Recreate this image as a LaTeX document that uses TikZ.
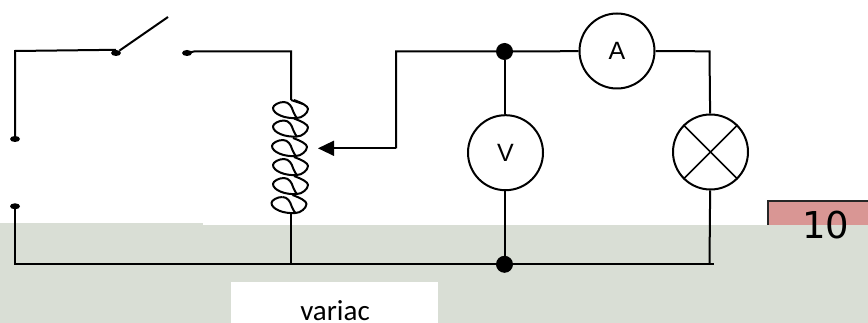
\documentclass[tikz,border=0pt]{standalone}
\usepackage{fontspec}
\usetikzlibrary{shapes.geometric}
\setmainfont{Carlito}
\newfontfamily\numfont{DejaVu Sans}
\newfontfamily\metfont{Liberation Sans}
\definecolor{bgGreen}{HTML}{D9DED5}
\definecolor{bgRed}{HTML}{D99694}
\begin{document}
\begin{tikzpicture}[x=1pt,y=-1pt,
  wire/.style={draw=black,line width=2pt,line join=miter},
  meter/.style={circle,draw=black,line width=2pt,fill=white,minimum size=75pt,inner sep=0pt,font=\metfont\fontsize{25}{28}\selectfont},
  bigdot/.style={circle,fill=black,inner sep=0pt,minimum size=17pt},
  smalldot/.style={ellipse,fill=black,inner sep=0pt,minimum width=10pt,minimum height=6pt},
  coilline/.style={draw=black,line width=2pt,line join=round}]
\useasboundingbox (0,0) rectangle (868,323);
\fill[white] (0,0) rectangle (868,323);
\fill[bgGreen] (0,224.7) rectangle (868,323);
\fill[bgGreen] (0,223.5) rectangle (203,225);
\fill[bgRed] (767,201) rectangle (868,224.7);
\draw[line width=2pt,draw=black!85] (767.5,224.7) -- (767.5,201) -- (868,201);
\node[font=\numfont\fontsize{37}{40}\selectfont,inner sep=0pt] (ten) at (826,225) {10};
\node[fill=white,minimum width=207pt,minimum height=41pt,inner sep=0pt,anchor=north west] (variacbox) at (231,282) {};
\node[font=\fontsize{29}{32}\selectfont,inner sep=0pt,anchor=base] (variac) at (335,320.5) {variac};
% terminals
\node[smalldot] (t1) at (15,139) {};
\node[smalldot] (t2) at (15,206.3) {};
\node[smalldot] (s1) at (116,53) {};
\node[smalldot] (s2) at (187,53) {};
\coordinate (swtip) at (168,17);
\coordinate (c1) at (15,51);
\coordinate (c2) at (15,264.3);
\coordinate (c4) at (291,100);
\coordinate (c5) at (291,213);
\coordinate (c6) at (291,264.3);
\coordinate (c7) at (396,51.3);
\coordinate (c8) at (396,148.3);
\coordinate (tip) at (318,148.3);
\coordinate (c9) at (709.5,51.3);
\coordinate (c10) at (714,264.3);
\coordinate (c11) at (709.5,264.3);
\node[bigdot] (n1) at (504.5,51.5) {};
\node[bigdot] (n2) at (504.5,264.3) {};
\node[meter] (A) at (617,51) {A};
\node[meter] (V) at (505.5,152.7) {V};
\node[meter] (L) at (710.5,152) {};
% wiring
\draw[wire] (t1) -- (c1) -- (s1.north);
\draw[wire] (s1) -- (swtip);
\draw[wire] (s2.center) -- ++(8,-1.7) -| (c4);
\draw[wire] (t2) -- (c2) -- (c10);
\draw[wire] (c5) -- (c6);
\draw[wire] (c8) -- (c7) -- (n1);
\draw[wire] (n1) -- (A);
\draw[wire] (A) -- (c9) -- (L);
\draw[wire] (L) -- (c11);
\draw[wire] (n1) -- (n1 |- V.north);
\draw[wire] (n2 |- V.south) -- (n2);
\draw[wire] (c8) -- (332,148.3);
\fill[black] (tip) -- (334,140.6) -- (334,156) -- cycle;
% lamp cross
\draw[wire,line width=1.7pt] (L.north west) -- (L.south east);
\draw[wire,line width=1.7pt] (L.north east) -- (L.south west);
% coil
\draw[coilline] (c4) -- (303,104);
\foreach \cy/\dx in {109/1,127.5/1,147/0,166/1,185/1,204/-0.5}{
  \begin{scope}[shift={(290+\dx,\cy)}]
   \draw[coilline] (-7,-7) .. controls (-12,-7) and (-18,-4) .. (-18,-1)
       .. controls (-18,5) and (-6,10) .. (6,9)
       .. controls (11,9) and (17,4) .. (17,0)
       .. controls (17,-3) and (11,-6) .. (3,-9);
   \draw[coilline] (-7,-7) .. controls (-2,-7) and (1,-2) .. (2,2) .. controls (3,5) and (5,8) .. (6,9);
  \end{scope}
}
\end{tikzpicture}
\end{document}
